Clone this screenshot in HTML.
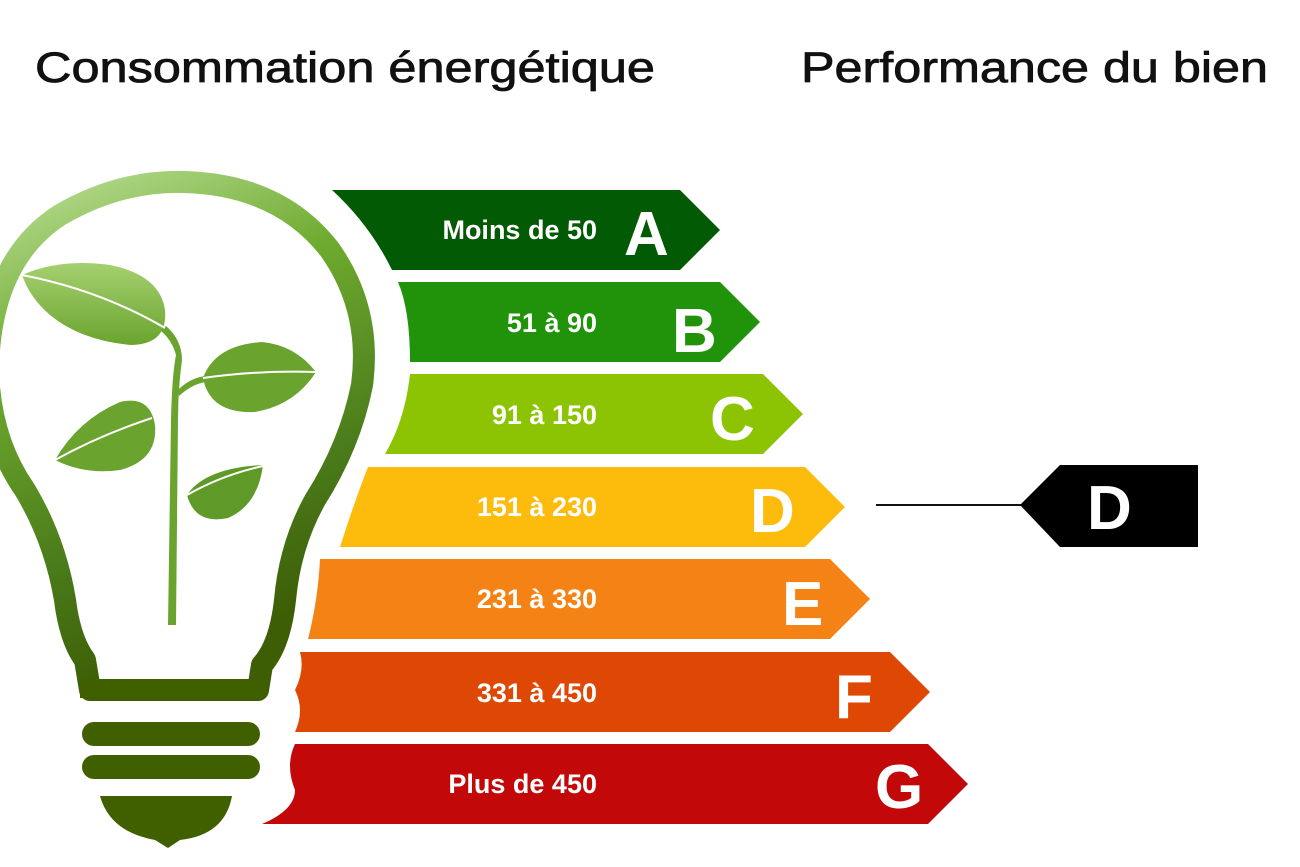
<!DOCTYPE html>
<html><head><meta charset="utf-8"><style>
html,body{margin:0;padding:0;background:#fff;width:1300px;height:867px;overflow:hidden}
svg{display:block}
</style></head><body>
<svg width="1300" height="867" viewBox="0 0 1300 867" xmlns="http://www.w3.org/2000/svg" font-family="Liberation Sans, DejaVu Sans, sans-serif">
<defs>
<linearGradient id="bulb" x1="0" y1="0" x2="0.3" y2="1">
<stop offset="0" stop-color="#bde09a"/><stop offset="0.35" stop-color="#6fab30"/><stop offset="0.75" stop-color="#4a7a1a"/><stop offset="1" stop-color="#3d5e05"/>
</linearGradient>
<linearGradient id="leaf" x1="0" y1="0" x2="0" y2="1">
<stop offset="0" stop-color="#a6d070"/><stop offset="1" stop-color="#6aa42e"/>
</linearGradient>
</defs>
<text x="35" y="82" font-size="43" fill="#111" stroke="#111" stroke-width="0.8" textLength="620" lengthAdjust="spacingAndGlyphs">Consommation énergétique</text>
<text x="801" y="82" font-size="43" fill="#111" stroke="#111" stroke-width="0.8" textLength="467" lengthAdjust="spacingAndGlyphs">Performance du bien</text>

<!-- bulb outline -->
<path d="M90 690 L85 660 Q70 640 65 600 Q55 540 25 490 Q-10 440 -12 370 Q-10 260 60 215 Q120 180 185 182 Q280 185 330 250 Q372 310 362 385 Q350 445 315 500 Q290 545 285 600 Q280 645 262 665 L258 690 Z" fill="none" stroke="url(#bulb)" stroke-width="22" stroke-linejoin="round"/>
<rect x="80" y="680" width="185" height="18" fill="#406000"/>
<rect x="82" y="722" width="178" height="24" rx="12" fill="#406000"/>
<rect x="82" y="755" width="178" height="24" rx="12" fill="#406000"/>
<path d="M100 796 L232 796 Q225 835 180 840 L168 848 L155 840 Q110 832 100 796 Z" fill="#406000"/>
<!-- plant -->
<path d="M168 625 L171 420 Q172 375 176 355 Q172 340 160 330 L166 326 Q182 340 182 360 Q178 390 178 420 L176 625 Z" fill="#6aa42e"/>
<path d="M178 390 Q190 378 205 376 L206 382 Q192 384 179 396 Z" fill="#6aa42e"/>
<path d="M22 275 Q60 258 110 265 Q160 275 165 310 Q168 345 130 345 Q80 340 50 315 Q30 298 22 275 Z" fill="url(#leaf)"/>
<path d="M22 275 Q100 290 165 328" stroke="#fff" stroke-width="2" fill="none"/>
<path d="M203 378 Q215 345 262 342 Q295 345 316 372 Q295 405 255 412 Q210 414 203 378 Z" fill="#6aa42e"/>
<path d="M203 378 Q260 370 316 372" stroke="#fff" stroke-width="2" fill="none"/>
<path d="M55 460 Q78 420 120 402 Q150 395 155 425 Q158 460 120 470 Q85 475 55 460 Z" fill="#6aa42e"/>
<path d="M55 460 Q100 435 152 418" stroke="#fff" stroke-width="2" fill="none"/>
<path d="M187 495 Q205 468 263 465 Q258 505 228 518 Q195 525 187 495 Z" fill="#5f9a28"/>
<path d="M187 495 Q222 475 263 466" stroke="#fff" stroke-width="2" fill="none"/>

<!-- bars -->
<g font-weight="bold" fill="#fff">
<path d="M332 190 L680 190 L720 230 L680 270 L392 270 Q370 225 332 190 Z" fill="#035a05"/>
<path d="M398 282 L720 282 L760 322 L720 362 L410 362 Q410 310 398 282 Z" fill="#21930a"/>
<path d="M410 374 L763 374 L803 414 L763 454 L385 454 Q405 420 410 374 Z" fill="#8cc404"/>
<path d="M368 467 L805 467 L845 507 L805 547 L340 547 Q355 500 368 467 Z" fill="#fdbb0c"/>
<path d="M320 559 L830 559 L870 599 L830 639 L308 639 Q318 600 320 559 Z" fill="#f58214"/>
<path d="M300 652 L890 652 L930 692 L890 732 L295 732 Q305 710 295 690 Q305 670 300 652 Z" fill="#de4704"/>
<path d="M295 744 L928 744 L968 784 L928 824 L262 824 Q295 810 295 790 Q285 765 295 744 Z" fill="#c3080a"/>
<g font-size="27" text-anchor="end">
<text x="597" y="239">Moins de 50</text>
<text x="597" y="332">51 à 90</text>
<text x="597" y="424">91 à 150</text>
<text x="597" y="516">151 à 230</text>
<text x="597" y="608">231 à 330</text>
<text x="597" y="702">331 à 450</text>
<text x="597" y="793">Plus de 450</text>
</g>
<g font-size="62">
<text x="624" y="255">A</text>
<text x="672" y="352">B</text>
<text x="710" y="440">C</text>
<text x="750" y="532">D</text>
<text x="782" y="625">E</text>
<text x="835" y="718">F</text>
<text x="875" y="808">G</text>
</g>
</g>
<!-- marker -->
<line x1="876" y1="505" x2="1022" y2="505" stroke="#111" stroke-width="2"/>
<path d="M1020 505 L1060 465 L1198 465 L1198 547 L1060 547 Z" fill="#000"/>
<text x="1087" y="529" font-size="62" font-weight="bold" fill="#fff">D</text>
</svg>
</body></html>
